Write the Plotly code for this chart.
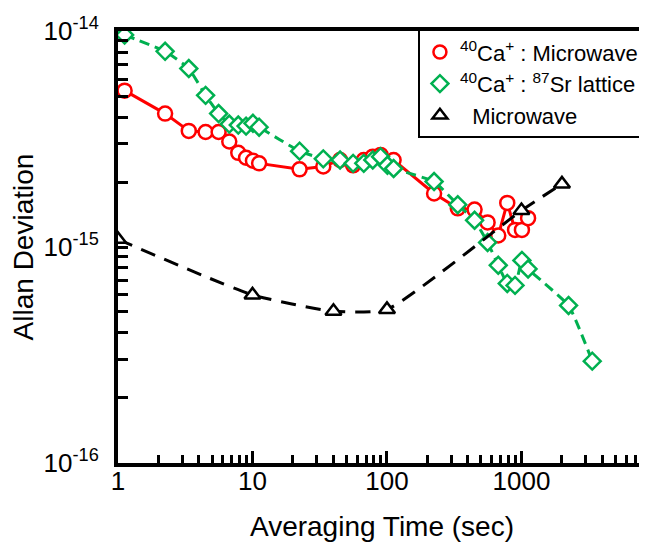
import plotly.graph_objects as go

# Averaging times (s)
tau_ca_mw = [1.12, 2.24, 3.36, 4.48, 5.6, 6.72, 7.84, 8.96, 10.08, 11.2,
             22.4, 33.6, 44.8, 56, 67.2, 78.4, 89.6, 112,
             224, 336, 448, 560, 672, 784, 896, 1008, 1120]
adev_ca_mw = [5.30e-15, 4.15e-15, 3.45e-15, 3.41e-15, 3.41e-15, 3.08e-15, 2.73e-15, 2.59e-15, 2.51e-15, 2.44e-15,
              2.29e-15, 2.36e-15, 2.53e-15, 2.39e-15, 2.53e-15, 2.62e-15, 2.67e-15, 2.53e-15,
              1.77e-15, 1.51e-15, 1.49e-15, 1.30e-15, 1.13e-15, 1.60e-15, 1.20e-15, 1.20e-15, 1.36e-15]

tau_ca_sr = [1.12, 2.24, 3.36, 4.48, 5.6, 6.72, 7.84, 8.96, 10.08, 11.2,
             22.4, 33.6, 44.8, 56, 67.2, 78.4, 89.6, 100.8, 112,
             224, 336, 448, 560, 672, 784, 896, 1008, 1120, 2240, 3360]
adev_ca_sr = [9.60e-15, 8.06e-15, 6.71e-15, 5.04e-15, 4.15e-15, 3.71e-15, 3.67e-15, 3.63e-15, 3.74e-15, 3.59e-15,
              2.78e-15, 2.56e-15, 2.53e-15, 2.44e-15, 2.44e-15, 2.53e-15, 2.62e-15, 2.39e-15, 2.31e-15,
              2.01e-15, 1.57e-15, 1.33e-15, 1.05e-15, 8.23e-16, 6.78e-16, 6.64e-16, 8.67e-16, 7.91e-16, 5.36e-16, 2.96e-16]

tau_mw = [1, 10, 40, 100, 1000, 2000]
adev_mw = [1.085e-15, 6.0e-16, 5.04e-16, 5.14e-16, 1.475e-15, 1.96e-15]

names = ["<sup>40</sup>Ca<sup>+</sup> : Microwave",
         "<sup>40</sup>Ca<sup>+</sup> : <sup>87</sup>Sr lattice",
         "  Microwave"]

x_tickvals = [1, 10, 100, 1000]
x_ticktext = ["1", "10", "100", "1000"]
x_minor = [m * 10 ** d for d in range(4) for m in range(2, 10)]
y_tickvals = [1e-16, 1e-15, 1e-14]
y_ticktext = ["10<sup>-16</sup>", "10<sup>-15</sup>", "10<sup>-14</sup>"]
y_minor = [m * 10.0 ** d for d in (-16, -15) for m in range(2, 10)]

RED = "#FF0000"
GREEN = "#00B050"
BLACK = "#000000"
FONT = "Arial, Liberation Sans, sans-serif"

fig = go.Figure()

fig.add_trace(go.Scatter(
    x=tau_ca_mw, y=adev_ca_mw, mode="lines+markers", showlegend=False,
    line=dict(color=RED, width=3),
    marker=dict(symbol="circle", size=14, color="white", line=dict(color=RED, width=2.5))))
fig.add_trace(go.Scatter(
    x=tau_ca_sr, y=adev_ca_sr, mode="lines+markers", showlegend=False,
    line=dict(color=GREEN, width=3, dash="10px,6px", shape="spline", smoothing=0.4),
    marker=dict(symbol="diamond", size=13, color="white", line=dict(color=GREEN, width=2.5))))
fig.add_trace(go.Scatter(
    x=tau_mw, y=adev_mw, mode="lines+markers", showlegend=False,
    line=dict(color=BLACK, width=3, dash="15px,10px", shape="spline", smoothing=0.5),
    marker=dict(symbol="triangle-up", size=14, color="white", line=dict(color=BLACK, width=2.5))))

# legend entries (markers only)
for nm, sym, col in zip(names, ["circle", "diamond", "triangle-up"], [RED, GREEN, BLACK]):
    fig.add_trace(go.Scatter(
        x=[None], y=[None], mode="markers", name=nm,
        marker=dict(symbol=sym, size=13, color="white", line=dict(color=col, width=2.5))))

fig.update_layout(
    width=647, height=543,
    margin=dict(l=110, r=9, t=5, b=88),
    paper_bgcolor="white", plot_bgcolor="white",
    font=dict(family=FONT, color="black", size=26),
    showlegend=True,
    legend=dict(x=0.569, y=1.003, xanchor="left", yanchor="top",
                bordercolor="black", borderwidth=1.5, bgcolor="white",
                font=dict(family=FONT, size=22, color="black"),
                itemwidth=30, tracegroupgap=0),
    xaxis=dict(type="log", range=[0, 3.926],
               showline=True, linecolor="black", linewidth=4, mirror=True,
               ticks="inside", ticklen=12, tickwidth=3, tickcolor="black",
               tickvals=x_tickvals, ticktext=x_ticktext,
               tickfont=dict(size=26, family=FONT), ticklabelstandoff=-8,
               ticklabeloverflow="allow",
               minor=dict(ticks="inside", tickvals=x_minor, ticklen=8, tickwidth=2.5,
                          tickcolor="black", showgrid=False),
               showgrid=False, zeroline=False,
               title=dict(text="Averaging Time (sec)", font=dict(size=28, family=FONT), standoff=22)),
    yaxis=dict(type="log", range=[-16.0005, -13.9995],
               showline=True, linecolor="black", linewidth=4, mirror=False,
               ticks="inside", ticklen=10, tickwidth=3, tickcolor="black",
               tickvals=y_tickvals, ticktext=y_ticktext,
               tickfont=dict(size=26, family=FONT), ticklabelstandoff=10,
               ticklabeloverflow="allow",
               minor=dict(ticks="inside", tickvals=y_minor, ticklen=10, tickwidth=3,
                          tickcolor="black", showgrid=False),
               showgrid=False, zeroline=False,
               title=dict(text="Allan Deviation", font=dict(size=28, family=FONT), standoff=8)),
)

fig.write_html("out.html")
